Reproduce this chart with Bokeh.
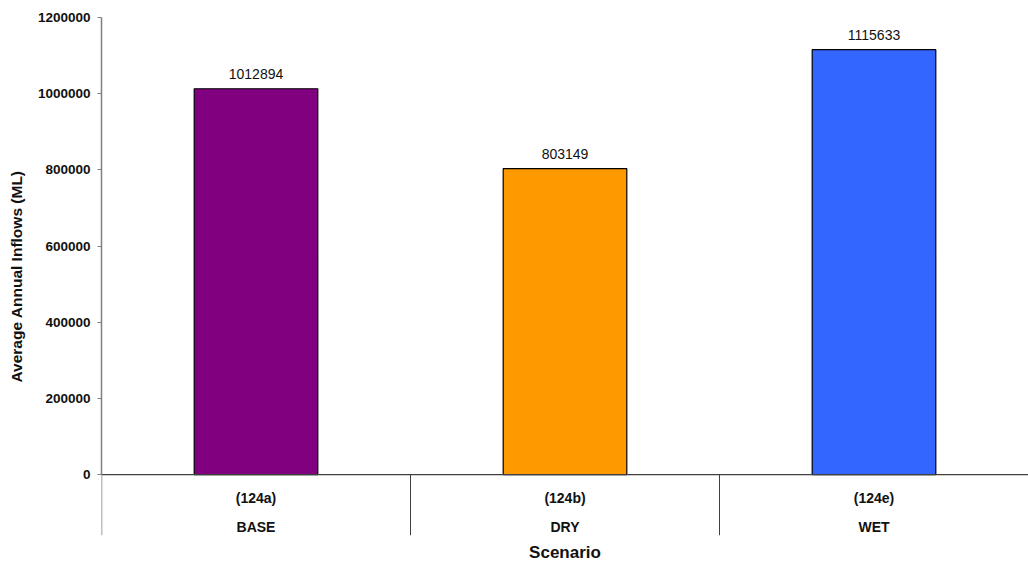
from bokeh.plotting import figure
from bokeh.models import FactorRange, Range1d, FixedTicker, ColumnDataSource, Title
from bokeh.core.properties import value
from bokeh.embed import file_html
from bokeh.resources import INLINE

categories = ["BASE", "DRY", "WET"]
codes = ["(124a)", "(124b)", "(124e)"]
inflows = [1012894, 803149, 1115633]
colors = ["#800080", "#FF9900", "#3366FF"]
y_ticks = [0, 200000, 400000, 600000, 800000, 1000000, 1200000]
y_title = "Average Annual Inflows (ML)"
y_bottom = -160000

FONT = "Liberation Sans"

p = figure(width=1028, height=567, output_backend="svg", toolbar_location=None,
           x_range=FactorRange(factors=categories, range_padding=0, start=-0.004),
           y_range=Range1d(y_bottom, y_ticks[-1]),
           min_border_left=101, min_border_right=0, min_border_top=17, min_border_bottom=32)
p.outline_line_color = None
p.grid.visible = False
p.xaxis.visible = False

src = ColumnDataSource(dict(cat=categories, val=inflows, color=colors,
                            code=codes, lbl=[str(v) for v in inflows],
                            zero=[0] * len(categories)))
p.vbar(x="cat", top="val", width=0.4, fill_color="color", line_color="black",
       line_width=1.2, source=src)

# value labels
p.text(x="cat", y="val", text="lbl", source=src, text_align="center",
       text_baseline="middle", y_offset=-15, text_font=value(FONT),
       text_font_size="14px", text_color="#111111")

# horizontal axis line at zero
p.segment(x0=[-0.004], y0=[0], x1=[3], y1=[0], line_color="#404040", line_width=1.2)
# category separators below axis (left one continues the value axis line)
p.segment(x0=[0, 1, 2], y0=[0, 0, 0], x1=[0, 1, 2], y1=[y_bottom] * 3,
          line_color=["#808080", "#404040", "#404040"], line_width=[1.5, 1, 1])

# two-level category labels
p.text(x="cat", y="zero", text="code", source=src, text_align="center",
       text_baseline="middle", y_offset=23, text_font=value(FONT),
       text_font_size="14px", text_font_style="bold", text_color="#111111")
p.text(x="cat", y="zero", text="cat", source=src, text_align="center",
       text_baseline="middle", y_offset=52, text_font=value(FONT),
       text_font_size="14px", text_font_style="bold", text_color="#111111")

ya = p.yaxis[0]
ya.bounds = (0, y_ticks[-1])
ya.ticker = FixedTicker(ticks=y_ticks)
ya.minor_tick_line_color = None
ya.major_tick_out = 4
ya.major_tick_in = 0
ya.axis_line_color = "#808080"
ya.axis_line_width = 1.5
ya.major_tick_line_color = "#808080"
ya.major_label_text_font = FONT
ya.major_label_text_font_size = "13.5px"
ya.major_label_text_font_style = "bold"
ya.major_label_text_color = "#111111"
ya.major_label_standoff = 7
ya.axis_label = y_title
ya.axis_label_text_font = FONT
ya.axis_label_text_font_size = "15.5px"
ya.axis_label_text_font_style = "bold"
ya.axis_label_text_color = "#111111"
ya.axis_label_standoff = 10
ya.formatter.use_scientific = False

p.add_layout(Title(text="Scenario", align="center", text_font=FONT,
                   text_font_size="17px", text_font_style="bold",
                   text_color="#111111", standoff=10, offset=0), "below")

open("out.html", "w").write(file_html(p, INLINE))
